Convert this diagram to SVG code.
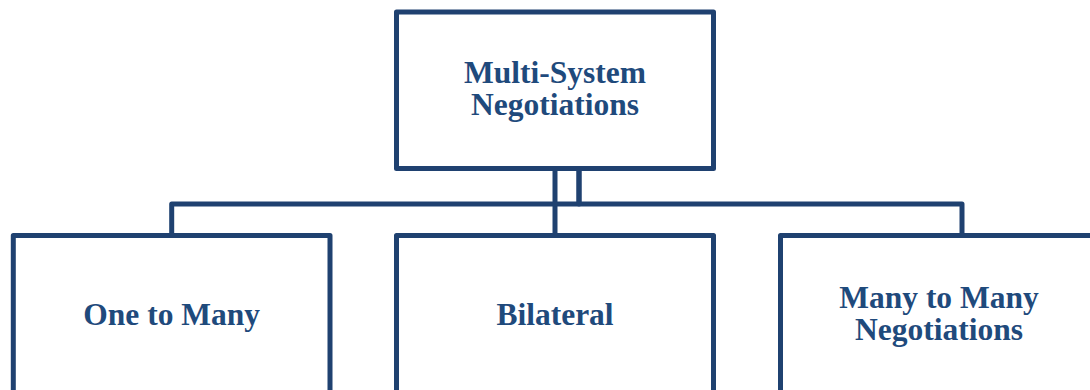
<svg xmlns="http://www.w3.org/2000/svg" width="1090" height="390" viewBox="0 0 1090 390">
<style>
.box{fill:#ffffff;stroke:#1f4170;stroke-width:5;stroke-linejoin:round}
.conn{fill:none;stroke:#1f4170;stroke-width:5;stroke-linejoin:round}
.lbl{font-family:"Liberation Serif","Times New Roman",serif;font-weight:bold;font-size:31.5px;fill:#1f4a7c;text-anchor:middle}
</style>
<rect width="1090" height="390" fill="#ffffff"/>
<g id="connectors">
<path class="conn" d="M555,168 V235"/>
<path class="conn" d="M579,168 V204 H171.7 V235"/>
<path class="conn" d="M579,168 V204 H962 V235"/>
</g>
<g id="root">
<rect class="box" x="396.5" y="12" width="317" height="156.5"/>
<text class="lbl" x="555" y="82.5">Multi-System</text>
<text class="lbl" x="555" y="115">Negotiations</text>
</g>
<g id="one-to-many">
<rect class="box" x="13.3" y="235.5" width="316.7" height="170"/>
<text class="lbl" x="171.7" y="325">One to Many</text>
</g>
<g id="bilateral">
<rect class="box" x="396.5" y="235.5" width="317" height="170"/>
<text class="lbl" x="555" y="325">Bilateral</text>
</g>
<g id="many-to-many">
<rect class="box" x="780.5" y="235.5" width="317" height="170"/>
<text class="lbl" x="939" y="307.5">Many to Many</text>
<text class="lbl" x="939" y="340">Negotiations</text>
</g>
</svg>
